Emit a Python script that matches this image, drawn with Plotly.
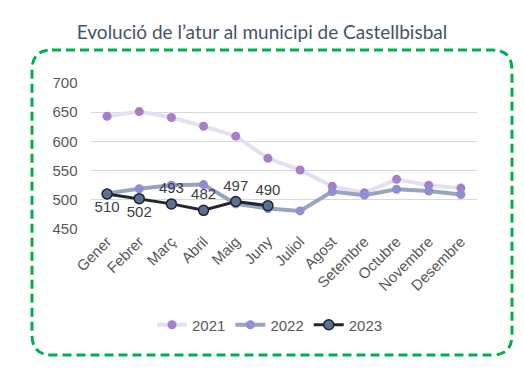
import plotly.graph_objects as go

months = ["Gener", "Febrer", "Març", "Abril", "Maig", "Juny", "Juliol",
          "Agost", "Setembre", "Octubre", "Novembre", "Desembre"]
y2021 = [643, 651, 641, 626, 609, 571, 551, 523, 512, 535, 525, 520]
y2022 = [511, 519, 525, 526, 493, 485, 481, 514, 508, 518, 515, 509]
y2023 = [510, 502, 493, 482, 497, 490]
label_pos_2023 = ["bottom center", "bottom center", "top center", "top center", "top center", "top center"]

# page body has an 8px margin, so the figure is drawn 8px in from the window corner
OFF = 8
W, H = 524 - OFF, 382 - OFF
L, R, T, B = 91 - OFF, 477 - OFF, 83 - OFF, 229 - OFF

fig = go.Figure()
fig.add_trace(go.Scatter(
    x=months, y=y2021, name="2021", mode="lines+markers",
    line=dict(color="#E4E0F1", width=4),
    marker=dict(color="#A77FC9", size=9),
))
fig.add_trace(go.Scatter(
    x=months, y=y2022, name="2022", mode="lines+markers",
    line=dict(color="#97A5BE", width=4),
    marker=dict(color="#8C8FD2", size=9),
))
fig.add_trace(go.Scatter(
    x=months[:len(y2023)], y=y2023, name="2023", mode="lines+markers+text",
    line=dict(color="#25252F", width=3),
    marker=dict(color="#5B7192", size=10, line=dict(color="#1F2433", width=1.5)),
    text=[str(v) for v in y2023], textposition=label_pos_2023,
    textfont=dict(family="Liberation Sans, Arial", size=15, color="#404040"),
))

def px(x):
    return (x - OFF - L) / (R - L)

def py(y):
    return (B - (y - OFF)) / (B - T)

x0, x1, y0, y1 = px(32), px(512), py(355), py(50)
rx = 20 / (R - L)
ry = 20 / (B - T)
path = (f"M {x0+rx},{y1} L {x1-rx},{y1} Q {x1},{y1} {x1},{y1-ry} "
        f"L {x1},{y0+ry} Q {x1},{y0} {x1-rx},{y0} "
        f"L {x0+rx},{y0} Q {x0},{y0} {x0},{y0+ry} "
        f"L {x0},{y1-ry} Q {x0},{y1} {x0+rx},{y1} Z")
fig.add_shape(type="path", xref="paper", yref="paper", path=path,
              line=dict(color="#00B050", width=3, dash="9px,5px"), layer="below")

fig.update_layout(
    width=W, height=H,
    margin=dict(l=L, r=W - R, t=T, b=H - B),
    paper_bgcolor="white", plot_bgcolor="white",
    font=dict(family="Liberation Sans, Arial", size=15, color="#595959"),
    title=dict(text="Evolució de l’atur al municipi de Castellbisbal",
               x=(262 - OFF) / W, xanchor="center", y=1 - (32 - OFF) / H, yanchor="middle",
               font=dict(family="Lato, Open Sans", size=19, color="#44546A")),
    showlegend=True,
    legend=dict(orientation="h", x=px(270), xanchor="center", y=py(325), yanchor="middle",
                font=dict(size=15, color="#595959"), bgcolor="rgba(0,0,0,0)"),
    xaxis=dict(type="category", tickangle=-45, showgrid=False, showline=False,
               ticks="", tickfont=dict(size=15, color="#595959"),
               range=[-0.5, 11.5]),
    yaxis=dict(range=[450, 700], dtick=50, showgrid=True, gridcolor="#D9D9D9",
               gridwidth=1, zeroline=False, showline=False, ticks="",
               ticksuffix="   ", tickfont=dict(size=15, color="#595959")),
)

fig.write_html("out.html")
